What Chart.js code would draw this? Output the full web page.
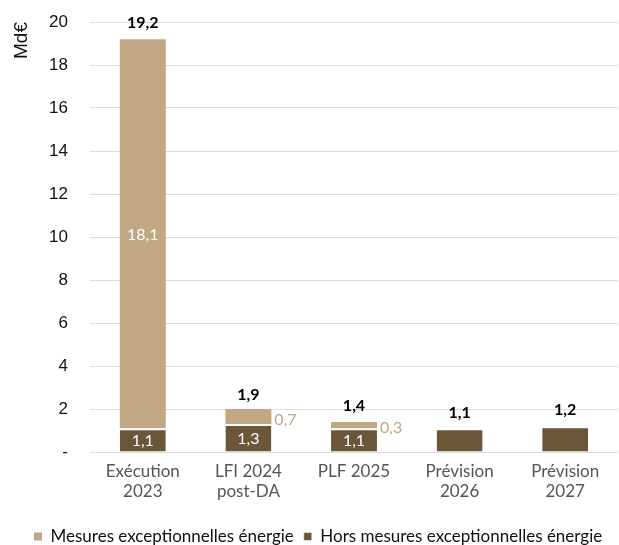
<!DOCTYPE html>
<html lang="fr">
<head>
    <meta charset="UTF-8">
    <title>Dépenses énergie</title>
    <script src="https://cdn.jsdelivr.net/npm/chart.js"></script>
    <style>
        body { margin: 0; background: #fff; }
        #wrap { width: 619px; height: 545px; }
    </style>
</head>
<body>
    <div id="wrap"><canvas id="chart"></canvas></div>

    <script>
        const categories = [["Exécution", "2023"], ["LFI 2024", "post-DA"], "PLF 2025", ["Prévision", "2026"], ["Prévision", "2027"]];
        const horsMesures = [1.1, 1.3, 1.1, 1.1, 1.2];
        const mesuresEnergie = [18.1, 0.7, 0.3, 0, 0];
        const totals = [19.2, 1.9, 1.4, 1.1, 1.2];
        const yTicks = [0, 2, 4, 6, 8, 10, 12, 14, 16, 18, 20];

        const TAN = "#c1a783";
        const BROWN = "#6b563a";
        const fmt = v => v.toFixed(1).replace(".", ",");

        // valeurs dans les segments (seulement si la barre est empilée) + totaux au-dessus
        const valueLabels = {
            id: "valueLabels",
            afterDatasetsDraw(chart) {
                const ctx = chart.ctx;
                ctx.save();
                ctx.textBaseline = "middle";
                chart.data.datasets.forEach((ds, i) => {
                    chart.getDatasetMeta(i).data.forEach((bar, j) => {
                        const v = ds.data[j];
                        if (!v || !mesuresEnergie[j]) return;
                        const mid = (bar.y + bar.base) / 2;
                        ctx.font = "16px Lato";
                        if (Math.abs(bar.base - bar.y) > 16) {
                            ctx.fillStyle = "#fff";
                            ctx.textAlign = "center";
                            ctx.fillText(fmt(v), bar.x, mid + 1);
                        } else {
                            ctx.fillStyle = TAN;
                            ctx.textAlign = "left";
                            ctx.fillText(fmt(v), bar.x + bar.width / 2 + 3, mid + 3);
                        }
                    });
                });
                const last = chart.getDatasetMeta(chart.data.datasets.length - 1);
                ctx.font = "bold 16px Lato";
                ctx.fillStyle = "#000";
                ctx.textAlign = "center";
                ctx.textBaseline = "bottom";
                totals.forEach((t, j) => {
                    const y = chart.scales.y.getPixelForValue(t);
                    ctx.fillText(fmt(t), last.data[j].x, y - 8);
                });
                ctx.restore();
            }
        };

        // décale la légende vers la droite et vers le bas
        const legendShift = {
            id: "legendShift",
            afterLayout(chart) {
                chart.legend.left += 14;
                chart.legend.top += 3;
            }
        };

        new Chart(document.getElementById("chart"), {
            type: "bar",
            data: {
                labels: categories,
                datasets: [
                    {
                        label: "Hors mesures exceptionnelles énergie",
                        data: horsMesures,
                        backgroundColor: BROWN,
                        borderColor: "#fff",
                        borderWidth: { top: 2, left: 0, right: 0, bottom: 0 },
                        borderSkipped: false,
                        barPercentage: 0.87,
                        categoryPercentage: 0.5
                    },
                    {
                        label: "Mesures exceptionnelles énergie",
                        data: mesuresEnergie,
                        backgroundColor: TAN,
                        borderWidth: 0,
                        barPercentage: 0.87,
                        categoryPercentage: 0.5
                    }
                ]
            },
            options: {
                responsive: true,
                maintainAspectRatio: false,
                animation: false,
                layout: { padding: { top: 22, right: 1, left: 10, bottom: -7 } },
                scales: {
                    x: {
                        stacked: true,
                        grid: { display: false },
                        border: { display: false },
                        ticks: { color: "#555", font: { family: "Lato", size: 17 }, padding: 1, maxRotation: 0 },
                        afterFit: s => { s.height = 63; }
                    },
                    y: {
                        stacked: true,
                        min: 0,
                        max: 20,
                        afterBuildTicks: s => { s.ticks = yTicks.map(v => ({ value: v })); },
                        grid: { color: "#dcdcdc", drawTicks: false },
                        border: { display: false },
                        ticks: {
                            color: "#111",
                            font: { family: "Liberation Sans", size: 17 },
                            padding: 22,
                            callback: v => v === 0 ? "-" : v
                        },
                        title: {
                            display: true,
                            text: "Md€",
                            align: "end",
                            color: "#111",
                            font: { family: "Liberation Sans", size: 19 },
                            padding: 0
                        },
                        afterFit: s => { s.width = 80; s.paddingTop = 0; s.paddingBottom = 0; }
                    }
                },
                plugins: {
                    legend: {
                        position: "bottom",
                        reverse: true,
                        align: "start",
                        labels: {
                            boxWidth: 8,
                            boxHeight: 8,
                            color: "#111",
                            font: { family: "Lato", size: 17 },
                            padding: 10
                        }
                    },
                    tooltip: { enabled: false }
                }
            },
            plugins: [valueLabels, legendShift]
        });
    </script>
</body>
</html>
